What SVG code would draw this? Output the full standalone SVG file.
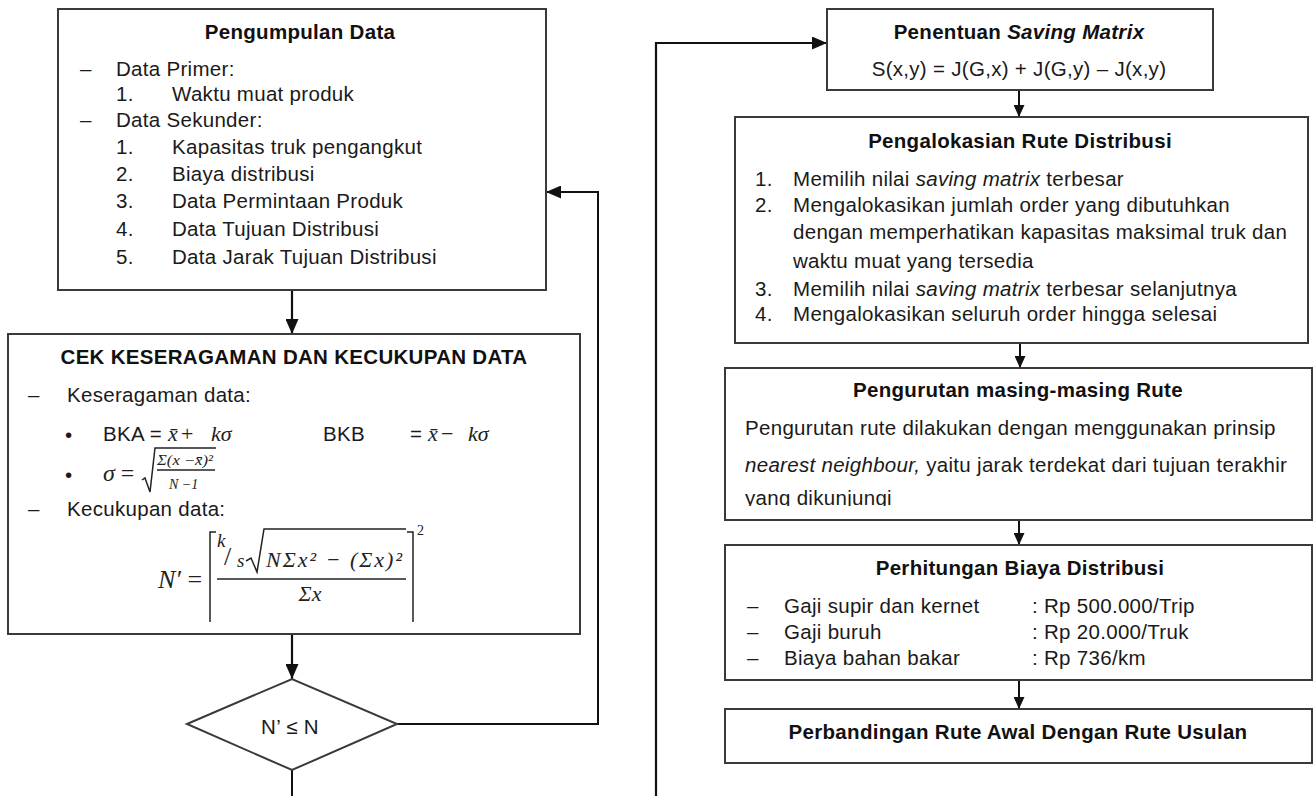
<svg xmlns="http://www.w3.org/2000/svg" width="1314" height="796" viewBox="0 0 1314 796">
<defs>
<style>
.box{fill:#fff;stroke:#3a3a3a;stroke-width:2}
.t{font-family:"Liberation Sans",Arial,sans-serif;font-size:20.5px;fill:#1a1a1a;letter-spacing:0.3px}
.b{font-family:"Liberation Sans",Arial,sans-serif;font-size:20.5px;font-weight:bold;fill:#111;letter-spacing:0.3px}
.m{font-family:"Liberation Serif","Times New Roman",serif;font-style:italic;fill:#222}
.mr{font-family:"Liberation Serif","Times New Roman",serif;fill:#222}
.c{fill:none;stroke:#111;stroke-width:2.2}
.cs{fill:none;stroke:#111;stroke-width:2}
.f{fill:none;stroke:#222;stroke-width:1.5}
.i{font-style:italic}
</style>
<marker id="ah" viewBox="0 0 15 13" refX="15" refY="6.5" markerWidth="15" markerHeight="13" markerUnits="userSpaceOnUse" orient="auto">
<path d="M0,0 L15,6.5 L0,13 z" fill="#111"/>
</marker>
<marker id="as" viewBox="0 0 12 11" refX="12" refY="5.5" markerWidth="12" markerHeight="11" markerUnits="userSpaceOnUse" orient="auto">
<path d="M0,0 L12,5.5 L0,11 z" fill="#111"/>
</marker>
<clipPath id="clipRute"><rect x="725" y="368" width="587" height="138"/></clipPath>
</defs>

<g id="connectors">
<path class="c" d="M292,290 L292,334" marker-end="url(#ah)"/>
<path class="c" d="M292,634 L292,679" marker-end="url(#ah)"/>
<path class="cs" d="M397,724 L598,724 L598,192 L546,192" marker-end="url(#ah)"/>
<path class="cs" d="M292,770 L292,796"/>
<path class="c" d="M656,796 L656,43 L827,43" marker-end="url(#ah)"/>
<path class="cs" d="M1019,90 L1019,117" marker-end="url(#as)"/>
<path class="cs" d="M1020,343 L1020,368" marker-end="url(#as)"/>
<path class="cs" d="M1019,520 L1019,545" marker-end="url(#as)"/>
<path class="cs" d="M1019,680 L1019,709" marker-end="url(#as)"/>
</g>

<g id="pengumpulan-data">
<rect class="box" x="58" y="9" width="488" height="281"/>
<text class="b" x="300" y="39" text-anchor="middle">Pengumpulan Data</text>
<text class="t" x="80" y="76">–</text>
<text class="t" x="116" y="76">Data Primer:</text>
<text class="t" x="116" y="101">1.</text>
<text class="t" x="172" y="101">Waktu muat produk</text>
<text class="t" x="80" y="127">–</text>
<text class="t" x="116" y="127">Data Sekunder:</text>
<text class="t" x="116" y="154">1.</text>
<text class="t" x="172" y="154">Kapasitas truk pengangkut</text>
<text class="t" x="116" y="181">2.</text>
<text class="t" x="172" y="181">Biaya distribusi</text>
<text class="t" x="116" y="208">3.</text>
<text class="t" x="172" y="208">Data Permintaan Produk</text>
<text class="t" x="116" y="236">4.</text>
<text class="t" x="172" y="236">Data Tujuan Distribusi</text>
<text class="t" x="116" y="264">5.</text>
<text class="t" x="172" y="264">Data Jarak Tujuan Distribusi</text>
</g>

<g id="cek-data">
<rect class="box" x="8" y="334" width="572" height="300"/>
<text class="b" x="294" y="364" text-anchor="middle">CEK KESERAGAMAN DAN KECUKUPAN DATA</text>
<text class="t" x="28" y="402">–</text>
<text class="t" x="67" y="402">Keseragaman data:</text>
<text class="t" x="65" y="442">•</text>
<text class="t" x="103" y="441">BKA =</text>
<text class="m" x="168" y="441" font-size="22">x̄</text>
<text class="mr" x="181" y="441" font-size="22">+</text>
<text class="m" x="211" y="441" font-size="22">kσ</text>
<text class="t" x="323" y="441">BKB</text>
<text class="t" x="410" y="441">=</text>
<text class="m" x="428" y="441" font-size="22">x̄</text>
<text class="mr" x="441" y="441" font-size="22">−</text>
<text class="m" x="468" y="441" font-size="22">kσ</text>
<text class="t" x="65" y="482">•</text>
<text class="m" x="103" y="481" font-size="24">σ <tspan font-style="normal">=</tspan></text>
<path class="f" d="M142,480 L145,478 L150,492 L155,448 L216,448" stroke-width="1.2"/>
<text class="m" x="157" y="465" font-size="14" textLength="56" lengthAdjust="spacingAndGlyphs">Σ(x −x̄)²</text>
<path class="f" d="M157,470 L215,470" stroke-width="1"/>
<text class="m" x="169" y="489" font-size="14">N −1</text>
<text class="t" x="28" y="516">–</text>
<text class="t" x="67" y="516">Kecukupan data:</text>
<text class="m" x="158" y="588" font-size="26">N′ <tspan font-style="normal">=</tspan></text>
<path class="f" d="M216,532 L210,532 L210,622" stroke-width="2"/>
<path class="f" d="M407,532 L413,532 L413,622" stroke-width="2"/>
<text class="mr" x="417" y="535" font-size="14">2</text>
<text class="m" x="217" y="547" font-size="19">k</text>
<text class="mr" x="224" y="565" font-size="26">/</text>
<text class="m" x="237" y="567" font-size="19">s</text>
<path class="f" d="M246,561 L251,558 L257,572 L264,529 L406,529"/>
<text class="m" x="266" y="567" font-size="22" textLength="136" lengthAdjust="spacing">NΣx² − (Σx)²</text>
<path class="f" d="M217,579 L406,579"/>
<text class="m" x="310" y="601" font-size="22" text-anchor="middle">Σx</text>
</g>

<g id="decision">
<polygon class="box" points="187,724 292,679 397,724 292,770"/>
<text class="t" x="290" y="734" text-anchor="middle" font-size="19" fill="#333">N’ ≤ N</text>
</g>

<g id="saving-matrix">
<rect class="box" x="827" y="9" width="386" height="81"/>
<text class="b" x="1019" y="39" text-anchor="middle">Penentuan <tspan class="i">Saving Matrix</tspan></text>
<text class="t" x="1019" y="76" text-anchor="middle">S(x,y) = J(G,x) + J(G,y) – J(x,y)</text>
</g>

<g id="pengalokasian">
<rect class="box" x="735" y="117" width="573" height="226"/>
<text class="b" x="1020" y="148" text-anchor="middle">Pengalokasian Rute Distribusi</text>
<text class="t" x="755" y="186">1.</text>
<text class="t" x="793" y="186">Memilih nilai <tspan class="i">saving matrix</tspan> terbesar</text>
<text class="t" x="755" y="212">2.</text>
<text class="t" x="793" y="212">Mengalokasikan jumlah order yang dibutuhkan</text>
<text class="t" x="793" y="239">dengan memperhatikan kapasitas maksimal truk dan</text>
<text class="t" x="793" y="268">waktu muat yang tersedia</text>
<text class="t" x="755" y="296">3.</text>
<text class="t" x="793" y="296">Memilih nilai <tspan class="i">saving matrix</tspan> terbesar selanjutnya</text>
<text class="t" x="755" y="321">4.</text>
<text class="t" x="793" y="321">Mengalokasikan seluruh order hingga selesai</text>
</g>

<g id="pengurutan">
<rect class="box" x="725" y="368" width="587" height="152"/>
<text class="b" x="1018" y="397" text-anchor="middle">Pengurutan masing-masing Rute</text>
<text class="t" x="745" y="435">Pengurutan rute dilakukan dengan menggunakan prinsip</text>
<text class="t" x="745" y="472"><tspan class="i">nearest neighbour,</tspan> yaitu jarak terdekat dari tujuan terakhir</text>
<text class="t" x="745" y="505" clip-path="url(#clipRute)">yang dikunjungi</text>
</g>

<g id="perhitungan">
<rect class="box" x="725" y="545" width="587" height="135"/>
<text class="b" x="1020" y="575" text-anchor="middle">Perhitungan Biaya Distribusi</text>
<text class="t" x="747" y="613">–</text>
<text class="t" x="784" y="613">Gaji supir dan kernet</text>
<text class="t" x="1032" y="613">: Rp 500.000/Trip</text>
<text class="t" x="747" y="639">–</text>
<text class="t" x="784" y="639">Gaji buruh</text>
<text class="t" x="1032" y="639">: Rp 20.000/Truk</text>
<text class="t" x="747" y="665">–</text>
<text class="t" x="784" y="665">Biaya bahan bakar</text>
<text class="t" x="1032" y="665">: Rp 736/km</text>
</g>

<g id="perbandingan">
<rect class="box" x="725" y="709" width="587" height="54"/>
<text class="b" x="1018" y="739" text-anchor="middle">Perbandingan Rute Awal Dengan Rute Usulan</text>
</g>
</svg>
